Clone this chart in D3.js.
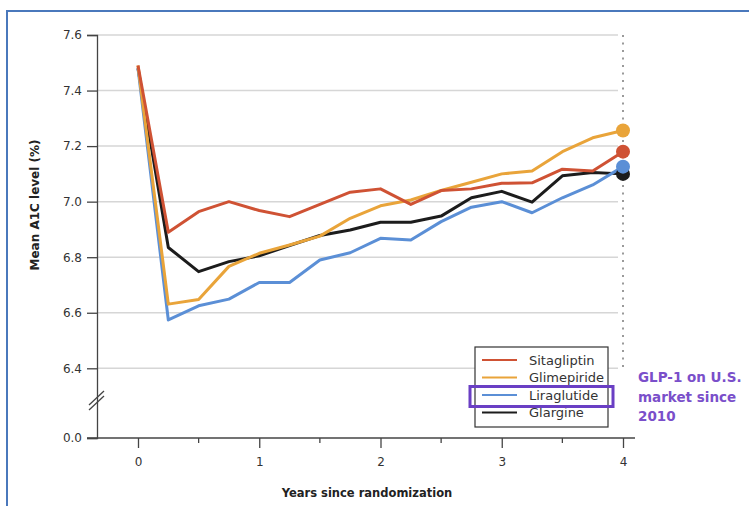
<!DOCTYPE html>
<meta charset="utf-8">
<style>
  body { margin: 0; background: #fff; }
  svg { display: block; }
  text { font-family: "DejaVu Sans", Verdana, sans-serif; }
</style>
<svg id="chart" width="749" height="506"></svg>
<script src="https://d3js.org/d3.v7.min.js"></script>
<script>
var years = [0, 0.25, 0.5, 0.75, 1, 1.25, 1.5, 1.75, 2, 2.25, 2.5, 2.75, 3, 3.25, 3.5, 3.75, 4]

var sitagliptin = [7.49, 6.89, 6.964, 7.0, 6.968, 6.946, 6.99, 7.034, 7.046, 6.99, 7.04, 7.046, 7.066, 7.068, 7.117, 7.11, 7.18]
var glimepiride = [7.49, 6.631, 6.648, 6.767, 6.814, 6.844, 6.876, 6.94, 6.985, 7.006, 7.04, 7.07, 7.10, 7.11, 7.18, 7.23, 7.256]
var liraglutide = [7.48, 6.574, 6.625, 6.649, 6.709, 6.709, 6.79, 6.816, 6.868, 6.862, 6.928, 6.98, 7.0, 6.96, 7.014, 7.06, 7.126]
var glargine = [7.48, 6.835, 6.748, 6.784, 6.805, 6.842, 6.878, 6.898, 6.926, 6.926, 6.948, 7.014, 7.037, 6.998, 7.093, 7.105, 7.10]

var seriesNames = ['Sitagliptin', 'Glimepiride', 'Liraglutide', 'Glargine']
var seriesColors = ['#cf5234', '#e9a43a', '#5b8fd6', '#1c1c1c']
var yTicks = [0.0, 6.4, 6.6, 6.8, 7.0, 7.2, 7.4, 7.6]
var xTicks = [0, 1, 2, 3, 4]
var xMinorTicks = [0.5, 1.5, 2.5, 3.5]

var series = [sitagliptin, glimepiride, liraglutide, glargine].map((vals, i) => ({
  name: seriesNames[i],
  color: seriesColors[i],
  values: vals.map((v, j) => ({x: years[j], y: v}))
}))

var svg = d3.select('#chart')

// outer blue frame (runs off the right and bottom edges)
svg.append('rect')
  .attr('x', 7).attr('y', 11)
  .attr('width', 800).attr('height', 600)
  .attr('fill', 'none')
  .attr('stroke', '#4a78bc')
  .attr('stroke-width', 2)

var x = d3.scaleLinear().domain([0, 4]).range([138, 623])
// broken axis: 0.0 sits below the 6.4 - 7.6 band
var y = d3.scaleLinear().domain([0, 6.4, 7.6]).range([438, 368.3, 35])

var axisX = 97

// gridlines
svg.append('g').selectAll('line')
  .data(yTicks.filter(d => d > 0))
  .enter().append('line')
  .attr('x1', axisX).attr('x2', 618)
  .attr('y1', d => y(d)).attr('y2', d => y(d))
  .attr('stroke', '#d6d6d6')
  .attr('stroke-width', 1.5)

// dotted line at year 4
svg.append('line')
  .attr('x1', x(4)).attr('x2', x(4))
  .attr('y1', y(7.6)).attr('y2', y(6.38))
  .attr('stroke', '#9a9a9a')
  .attr('stroke-width', 2)
  .attr('stroke-dasharray', '2,5.5')

// y axis
var yAxis = svg.append('g')
  .attr('transform', `translate(${axisX},0)`)
  .call(d3.axisLeft(y).tickValues(yTicks).tickSize(10).tickPadding(5).tickFormat(d3.format('.1f')))
yAxis.select('.domain').attr('stroke', '#444').attr('stroke-width', 1.3)
yAxis.selectAll('.tick line').attr('stroke', '#444').attr('stroke-width', 1.3)
yAxis.selectAll('.tick text')
  .attr('font-family', '"DejaVu Sans", Verdana, sans-serif')
  .attr('font-size', 12).attr('fill', '#333')

// axis break marks
var brk = svg.append('g')
;[0, 5].forEach(function (off) {
  brk.append('line')
    .attr('x1', axisX - 8).attr('y1', 410 - off)
    .attr('x2', axisX + 7).attr('y2', 396 - off)
    .attr('stroke', '#444').attr('stroke-width', 1.3)
})

// x axis
var xAxis = svg.append('g')
  .attr('transform', `translate(0,${y(0)})`)
  .call(d3.axisBottom(x).tickValues(xTicks).tickSize(10).tickPadding(9).tickSizeOuter(0).tickFormat(d3.format('d')))
xAxis.select('.domain').attr('d', `M${axisX - 10},0H635`).attr('stroke', '#444').attr('stroke-width', 1.3)
xAxis.selectAll('.tick line').attr('stroke', '#444').attr('stroke-width', 1.3)
xAxis.selectAll('.tick text')
  .attr('font-family', '"DejaVu Sans", Verdana, sans-serif')
  .attr('font-size', 12).attr('fill', '#333')

svg.append('g').selectAll('line')
  .data(xMinorTicks)
  .enter().append('line')
  .attr('x1', d => x(d)).attr('x2', d => x(d))
  .attr('y1', y(0)).attr('y2', y(0) + 5)
  .attr('stroke', '#444').attr('stroke-width', 1.3)

// axis titles
svg.append('text')
  .attr('x', 367).attr('y', 497)
  .attr('text-anchor', 'middle')
  .attr('font-size', 11.5).attr('font-weight', 'bold').attr('fill', '#222')
  .text('Years since randomization')

svg.append('text')
  .attr('transform', 'translate(39,205) rotate(-90)')
  .attr('text-anchor', 'middle')
  .attr('font-size', 12).attr('font-weight', 'bold').attr('fill', '#222')
  .text('Mean A1C level (%)')

// lines, drawn so sitagliptin ends on top
var line = d3.line().x(d => x(d.x)).y(d => y(d.y))
var drawOrder = series.slice().reverse()

svg.append('g').selectAll('path')
  .data(drawOrder)
  .enter().append('path')
  .attr('d', d => line(d.values))
  .attr('fill', 'none')
  .attr('stroke', d => d.color)
  .attr('stroke-width', 3)
  .attr('stroke-linejoin', 'round')

svg.append('g').selectAll('circle')
  .data(drawOrder)
  .enter().append('circle')
  .attr('cx', d => x(d.values[d.values.length - 1].x))
  .attr('cy', d => y(d.values[d.values.length - 1].y))
  .attr('r', 7)
  .attr('fill', d => d.color)

// legend
var legend = svg.append('g')
legend.append('rect')
  .attr('x', 475).attr('y', 347)
  .attr('width', 133).attr('height', 80)
  .attr('fill', '#fff')
  .attr('stroke', '#333').attr('stroke-width', 1.2)

var item = legend.selectAll('g.item')
  .data(series)
  .enter().append('g')
  .attr('class', 'item')
  .attr('transform', (d, i) => `translate(0,${360 + i * 17.5})`)

item.append('line')
  .attr('x1', 482).attr('x2', 517)
  .attr('stroke', d => d.color)
  .attr('stroke-width', 2)

item.append('text')
  .attr('x', 529).attr('dy', '0.35em')
  .attr('font-family', '"Liberation Sans", Arial, sans-serif')
  .attr('font-size', 13).attr('fill', '#333')
  .text(d => d.name)

// highlight box and note
svg.append('rect')
  .attr('x', 470).attr('y', 386.5)
  .attr('width', 143).attr('height', 20)
  .attr('fill', 'none')
  .attr('stroke', '#6a3fc4').attr('stroke-width', 3)

var note = svg.append('text')
  .attr('font-family', 'Roboto, "Open Sans", sans-serif')
  .attr('font-size', 13.5).attr('font-weight', 'bold').attr('fill', '#7a4fca')
;['GLP-1 on U.S.', 'market since', '2010'].forEach(function (t, i) {
  note.append('tspan').attr('x', 638).attr('y', 382 + i * 19.5).text(t)
})
</script>
